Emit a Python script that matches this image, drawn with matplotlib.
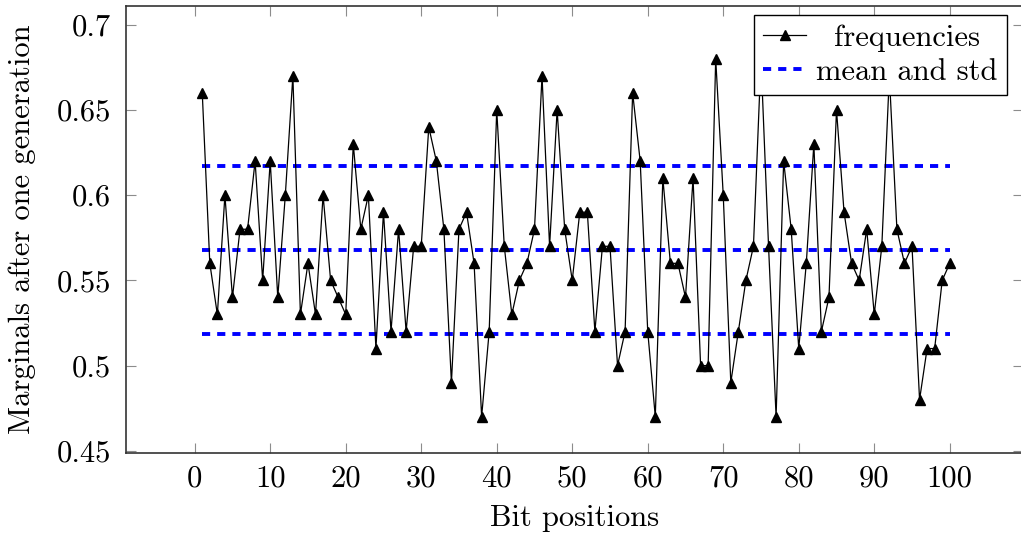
import matplotlib
matplotlib.use("Agg")
import matplotlib.pyplot as plt
import numpy as np

# Bit positions and the observed marginal frequency of each bit
positions = np.arange(1, 101)
frequencies = [
    0.66, 0.56, 0.53, 0.60, 0.54, 0.58, 0.58, 0.62, 0.55, 0.62,
    0.54, 0.60, 0.67, 0.53, 0.56, 0.53, 0.60, 0.55, 0.54, 0.53,
    0.63, 0.58, 0.60, 0.51, 0.59, 0.52, 0.58, 0.52, 0.57, 0.57,
    0.64, 0.62, 0.58, 0.49, 0.58, 0.59, 0.56, 0.47, 0.52, 0.65,
    0.57, 0.53, 0.55, 0.56, 0.58, 0.67, 0.57, 0.65, 0.58, 0.55,
    0.59, 0.59, 0.52, 0.57, 0.57, 0.50, 0.52, 0.66, 0.62, 0.52,
    0.47, 0.61, 0.56, 0.56, 0.54, 0.61, 0.50, 0.50, 0.68, 0.60,
    0.49, 0.52, 0.55, 0.57, 0.68, 0.57, 0.47, 0.62, 0.58, 0.51,
    0.56, 0.63, 0.52, 0.54, 0.65, 0.59, 0.56, 0.55, 0.58, 0.53,
    0.57, 0.67, 0.58, 0.56, 0.57, 0.48, 0.51, 0.51, 0.55, 0.56,
]
x_ticks = list(range(0, 101, 10))
y_ticks = [0.45, 0.5, 0.55, 0.6, 0.65, 0.7]
y_tick_labels = ["0.45", "0.5", "0.55", "0.6", "0.65", "0.7"]

mean = np.mean(frequencies)
std = np.std(frequencies)

plt.rcParams["font.family"] = "serif"
plt.rcParams["font.serif"] = ["cmr10", "DejaVu Serif"]
plt.rcParams["mathtext.fontset"] = "cm"
plt.rcParams["axes.unicode_minus"] = False

W, H = 1021, 535
fig = plt.figure(figsize=(W / 100, H / 100), dpi=100)
# right edge of the frame sits just past the figure border
ax = fig.add_axes([126 / W, 1 - 452.5 / H, (1023 - 126) / W, (452.5 - 6) / H])

# frequencies with triangle markers
ax.plot(positions, frequencies, color="black", linewidth=0.9,
        marker="^", markersize=7, label="frequencies", zorder=3)

# mean and mean +/- one standard deviation
for k, level in enumerate([mean - std, mean, mean + std]):
    ax.plot([positions[0], positions[-1]], [level, level], color="#0000ff",
            linewidth=2.8, linestyle=(0, (2.1, 1.8)),
            label="mean and std" if k == 0 else None, zorder=2)

ax.set_xlim(-9.1, 109.7)
ax.set_ylim(0.449, 0.711)
ax.set_xticks(x_ticks)
ax.set_yticks(y_ticks)
ax.set_yticklabels(y_tick_labels)

ax.tick_params(direction="in", length=7.2, width=0.8, color="#8c8c8c",
               top=True, right=True, labelsize=22)
ax.tick_params(axis="y", pad=11)
ax.tick_params(axis="x", pad=9)
for side in ax.spines.values():
    side.set_color("#333333")
    side.set_linewidth(1.2)

ax.set_xlabel("Bit positions", fontsize=22, labelpad=9)
ax.set_ylabel("Marginals after one generation", fontsize=22, labelpad=15)

leg = ax.legend(loc="upper right", bbox_to_anchor=(1006.7 / W, 1 - 15 / H),
                bbox_transform=fig.transFigure, borderaxespad=0,
                fontsize=22, frameon=True, fancybox=False, framealpha=1,
                edgecolor="black", handlelength=1.4, handletextpad=0.33,
                borderpad=0.3, labelspacing=0.22)
leg.get_frame().set_linewidth(1.0)

# centre the shorter entry under the longer one
fig.canvas.draw()
renderer = fig.canvas.get_renderer()
widths = [t.get_window_extent(renderer).width for t in leg.get_texts()]
leg.get_texts()[0].set_x((max(widths) - widths[0]) / 2)

fig.savefig("out.png", dpi=100)
